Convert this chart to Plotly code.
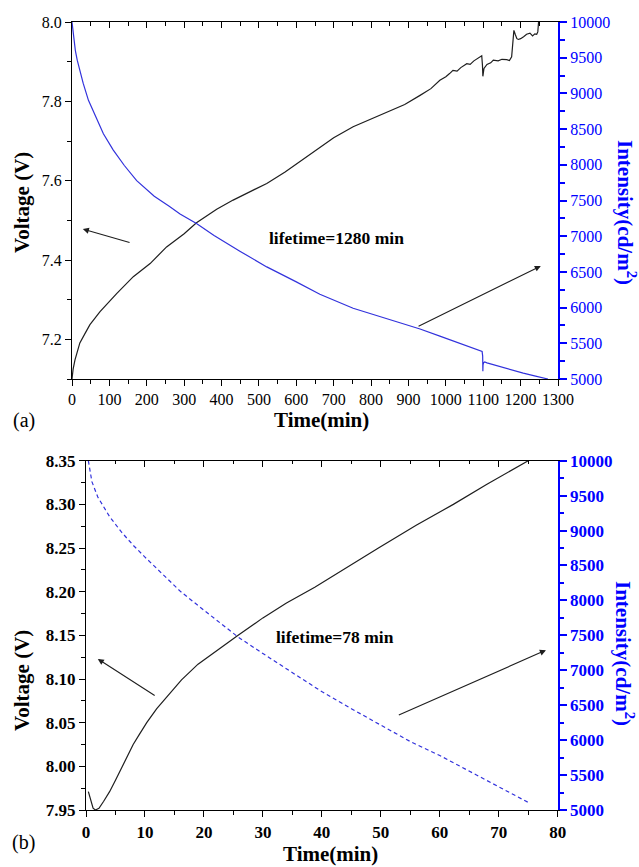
import plotly.graph_objects as go

# ---------------- data ----------------
# panel (a)
time_a_v = [0, 3, 8, 15, 21, 35, 48, 75, 100, 120, 164, 209, 253, 300, 333, 387, 431, 480, 521, 570,
            610, 640, 663, 700, 752, 800, 842, 890, 931, 960, 984, 1000, 1010, 1019, 1030, 1040, 1056,
            1065, 1075, 1091, 1096, 1098, 1099, 1102, 1110, 1120, 1127, 1140, 1150, 1163, 1170, 1176,
            1178, 1180, 1182, 1186, 1190, 1194, 1200, 1208, 1216, 1225, 1232, 1238, 1243, 1246, 1248]
voltage_a = [7.100, 7.125, 7.148, 7.172, 7.191, 7.215, 7.237, 7.270, 7.297, 7.316, 7.358, 7.391, 7.433,
             7.466, 7.494, 7.528, 7.551, 7.573, 7.593, 7.622, 7.648, 7.668, 7.684, 7.708, 7.736, 7.755,
             7.772, 7.792, 7.815, 7.832, 7.853, 7.862, 7.870, 7.878, 7.876, 7.885, 7.895, 7.893, 7.902,
             7.912, 7.915, 7.890, 7.863, 7.883, 7.893, 7.897, 7.904, 7.902, 7.906, 7.905, 7.903, 7.912,
             7.945, 7.970, 7.979, 7.968, 7.958, 7.956, 7.958, 7.963, 7.969, 7.972, 7.965, 7.970, 7.969,
             7.975, 8.000]

time_a_i = [0, 2, 5, 9, 14, 22, 30, 44, 60, 84, 110, 140, 173, 220, 260, 289, 333, 380, 449, 521, 600,
            663, 752, 842, 931, 984, 1020, 1060, 1097, 1098.5, 1099, 1099.5, 1101, 1104, 1110, 1120,
            1145, 1175, 1207, 1240, 1273]
intensity_a = [10000, 9900, 9747, 9600, 9466, 9280, 9140, 8903, 8710, 8435, 8210, 7990, 7779, 7560, 7420,
               7310, 7178, 7010, 6790, 6570, 6360, 6186, 5990, 5840, 5700, 5600, 5530, 5460, 5385, 5320,
               5110, 5200, 5228, 5238, 5225, 5210, 5168, 5125, 5083, 5040, 5000]

# panel (b)
time_b_v = [0.4, 0.8, 1.2, 1.6, 2.2, 3, 4, 5, 6, 7, 8, 9, 10.3, 12, 14, 16.2, 19, 22, 25.8, 30, 34,
            38.8, 44, 49.6, 56, 62.3, 68, 75]
voltage_b = [7.971, 7.960, 7.952, 7.950, 7.952, 7.960, 7.971, 7.984, 7.998, 8.012, 8.025, 8.036, 8.050,
             8.066, 8.082, 8.099, 8.117, 8.132, 8.150, 8.170, 8.187, 8.205, 8.227, 8.250, 8.276, 8.300,
             8.323, 8.350]

time_b_i = [0.4, 1, 2, 3, 4, 6, 8, 10, 13, 16, 20, 25.8, 30, 35, 39.7, 45, 50, 55, 60, 65, 70, 75.3]
intensity_b = [10000, 9700, 9480, 9330, 9200, 8980, 8790, 8620, 8380, 8130, 7860, 7476, 7240, 6970, 6710,
               6450, 6220, 5980, 5780, 5560, 5340, 5095]

# annotation arrows: (head_x, head_y, tail_x, tail_y) in voltage-axis data units
arrows_a = [(29, 7.478, 158, 7.443), (1254, 7.385, 923, 7.231)]
arrows_b = [(2.0, 8.123, 11.9, 8.080), (78.0, 8.133, 52.8, 8.058)]

# ---------------- figure ----------------
W, H = 639, 867
SERIF = "Liberation Serif"
BLUE_AX = "#0000ff"
BLUE_LN = "#3232dc"
BLACK_LN = "#1e1e1e"

fig = go.Figure()
fig.add_trace(go.Scatter(x=time_a_v, y=voltage_a, mode="lines", line=dict(color=BLACK_LN, width=1.2),
                         xaxis="x", yaxis="y", showlegend=False))
fig.add_trace(go.Scatter(x=time_a_i, y=intensity_a, mode="lines", line=dict(color=BLUE_LN, width=1.2),
                         xaxis="x", yaxis="y2", showlegend=False))
fig.add_trace(go.Scatter(x=time_b_v, y=voltage_b, mode="lines", line=dict(color=BLACK_LN, width=1.2),
                         xaxis="x2", yaxis="y3", showlegend=False))
fig.add_trace(go.Scatter(x=time_b_i, y=intensity_b, mode="lines",
                         line=dict(color=BLUE_LN, width=1.2, dash="4px,3px"),
                         xaxis="x2", yaxis="y4", showlegend=False))
# dummy traces so the top (mirror) axes are drawn
fig.add_trace(go.Scatter(x=[None], y=[None], xaxis="x3", yaxis="y", showlegend=False, hoverinfo="skip"))
fig.add_trace(go.Scatter(x=[None], y=[None], xaxis="x4", yaxis="y3", showlegend=False, hoverinfo="skip"))

xa_dom = [72 / W, 558 / W]
ya_dom = [1 - 379 / H, 1 - 22 / H]
xb_dom = [86 / W, 557.7 / W]
yb_dom = [1 - 810 / H, 1 - 460.7 / H]

def tf(size, color="black", bold=False):
    d = dict(family=SERIF, size=size, color=color)
    if bold:
        d["weight"] = "bold"
    return d

common_x = dict(showgrid=False, zeroline=False, showline=True, linecolor="black", linewidth=1.3,
                ticks="outside", ticklen=6, tickwidth=1.2, tickcolor="black", automargin=False)
common_y = dict(showgrid=False, zeroline=False, showline=True, linecolor="black", linewidth=1.3,
                ticks="outside", ticklen=6, tickwidth=1.2, tickcolor="black", automargin=False)
right_y = dict(showgrid=False, zeroline=False, showline=True, linecolor=BLUE_AX, linewidth=2,
               ticks="outside", ticklen=7, tickwidth=1.5, tickcolor=BLUE_AX, automargin=False,
               side="right", tickformat="d")

fig.update_layout(
    width=W, height=H, margin=dict(l=0, r=0, t=0, b=0),
    font=dict(family=SERIF, size=16, color="black"),
    paper_bgcolor="white", plot_bgcolor="white", showlegend=False,
    xaxis=dict(domain=xa_dom, anchor="y", range=[0, 1300], dtick=100, tick0=0,
               minor=dict(dtick=50, ticklen=3.5, ticks="outside", tickcolor="black"),
               tickfont=tf(16), **common_x),
    xaxis3=dict(domain=xa_dom, anchor="y", overlaying="x", side="top", range=[0, 1300], dtick=100,
                showticklabels=False, showgrid=False, zeroline=False, showline=True, linecolor="black",
                linewidth=1.3, ticks="inside", ticklen=6, tickwidth=1.2, tickcolor="black",
                minor=dict(dtick=50, ticklen=3.5, ticks="inside", tickcolor="black")),
    yaxis=dict(domain=ya_dom, anchor="x", range=[7.1, 8.0], dtick=0.2, tick0=0, tickformat=".1f",
               minor=dict(dtick=0.1, ticklen=3.5, ticks="outside", tickcolor="black"),
               tickfont=tf(16), **common_y),
    yaxis2=dict(domain=ya_dom, anchor="x", overlaying="y", range=[5000, 10000], dtick=500,
                minor=dict(dtick=250, ticklen=4.5, ticks="outside", tickcolor=BLUE_AX),
                tickfont=tf(16, BLUE_AX), **right_y),
    xaxis2=dict(domain=xb_dom, anchor="y3", range=[0, 80], dtick=10, tick0=0,
                minor=dict(dtick=5, ticklen=3.5, ticks="outside", tickcolor="black"),
                tickfont=tf(17, bold=True), **common_x),
    xaxis4=dict(domain=xb_dom, anchor="y3", overlaying="x2", side="top", range=[0, 80], dtick=10,
                showticklabels=False, showgrid=False, zeroline=False, showline=True, linecolor="black",
                linewidth=1.3, ticks="inside", ticklen=6, tickwidth=1.2, tickcolor="black",
                minor=dict(dtick=5, ticklen=3.5, ticks="inside", tickcolor="black")),
    yaxis3=dict(domain=yb_dom, anchor="x2", range=[7.95, 8.35], dtick=0.05, tick0=7.95, tickformat=".2f",
                minor=dict(dtick=0.025, ticklen=3.5, ticks="outside", tickcolor="black"),
                tickfont=tf(17, bold=True), **common_y),
    yaxis4=dict(domain=yb_dom, anchor="x2", overlaying="y3", range=[5000, 10000], dtick=500,
                minor=dict(dtick=250, ticklen=4.5, ticks="outside", tickcolor=BLUE_AX),
                tickfont=tf(17, BLUE_AX, bold=True), **right_y),
)

ann = []
def ptxt(text, px, py, size, color="black", bold=True, angle=0):
    f = tf(size, color, bold)
    ann.append(dict(text=text, x=px / W, y=1 - py / H, xref="paper", yref="paper",
                    xanchor="center", yanchor="middle", showarrow=False, font=f, textangle=angle))

ptxt("Voltage (V)", 22, 203, 21, angle=-90)
ptxt("Voltage (V)", 22, 681, 21, angle=-90)
ptxt("Intensity(cd/m<sup>2</sup>)", 627, 212, 21, BLUE_AX, angle=90)
ptxt("Intensity(cd/m<sup>2</sup>)", 625, 653, 21, BLUE_AX, angle=90)
ptxt("Time(min)", 322, 420, 21)
ptxt("Time(min)", 330, 854, 21)
ptxt("(a)", 24, 420, 20, bold=False)
ptxt("(b)", 23, 842, 20, bold=False)
ptxt("lifetime=1280 min", 336, 238, 17.5)
ptxt("lifetime=78 min", 335, 637, 17.5)

for (hx, hy, tx, ty) in arrows_a:
    ann.append(dict(x=hx, y=hy, ax=tx, ay=ty, xref="x", yref="y", axref="x", ayref="y", text="",
                    showarrow=True, arrowhead=2, arrowsize=1.1, arrowwidth=1.1, arrowcolor="#1e1e1e"))
for (hx, hy, tx, ty) in arrows_b:
    ann.append(dict(x=hx, y=hy, ax=tx, ay=ty, xref="x2", yref="y3", axref="x2", ayref="y3", text="",
                    showarrow=True, arrowhead=2, arrowsize=1.1, arrowwidth=1.1, arrowcolor="#1e1e1e"))

fig.update_layout(annotations=ann)
fig.write_html("out.html")
